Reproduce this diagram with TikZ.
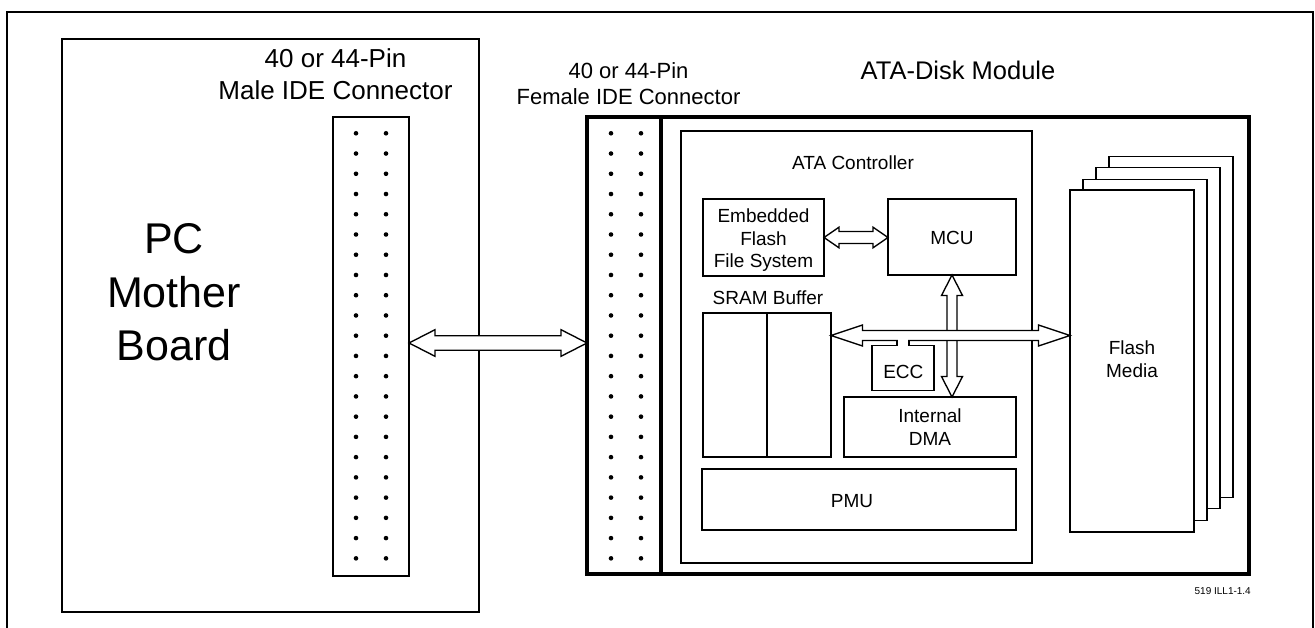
\documentclass[tikz,border=0pt]{standalone}
\usepackage{fontspec}
\setmainfont{Liberation Sans}
\usetikzlibrary{calc}
\newcommand\myharrow[5]{\draw[arrowshape] let \p1=(#1), \p2=(#2) in
  (\x1,\y1) -- (\x1+#5pt,\y1+#4pt) -- (\x1+#5pt,\y1+#3pt) -- (\x2-#5pt,\y1+#3pt) -- (\x2-#5pt,\y1+#4pt) -- (\x2,\y1)
  -- (\x2-#5pt,\y1-#4pt) -- (\x2-#5pt,\y1-#3pt) -- (\x1+#5pt,\y1-#3pt) -- (\x1+#5pt,\y1-#4pt) -- cycle;}
\newcommand\myvarrow[5]{\draw[arrowshape] let \p1=(#1), \p2=(#2) in
  (\x1,\y1) -- (\x1+#4pt,\y1-#5pt) -- (\x1+#3pt,\y1-#5pt) -- (\x1+#3pt,\y2+#5pt) -- (\x1+#4pt,\y2+#5pt) -- (\x1,\y2)
  -- (\x1-#4pt,\y2+#5pt) -- (\x1-#3pt,\y2+#5pt) -- (\x1-#3pt,\y1-#5pt) -- (\x1-#4pt,\y1-#5pt) -- cycle;}
\tikzset{
  box/.style={draw, line width=1.35pt, fill=white, inner sep=0pt, outer sep=0pt},
  thickbox/.style={draw, line width=3.8pt, inner sep=0pt, outer sep=0pt},
  arrowshape/.style={draw, fill=white, line width=1.35pt, line join=miter},
  lbl/.style={anchor=base, inner sep=0pt, outer sep=0pt},
  f19/.style={font=\fontsize{19}{23}\selectfont},
}
\begin{document}
\begin{tikzpicture}[x=1pt,y=-1pt]
\useasboundingbox (0,0) rectangle (1315,628);
\fill[white] (0,0) rectangle (1315,628);
% outer frame
\draw[line width=2pt] (7,628) -- (7,12) -- (1313,12) -- (1313,628);

% PC mother board
\node[box, minimum width=417, minimum height=573] (pc) at (270.5,325.5) {};
\node[lbl, font=\fontsize{43}{53}\selectfont] (pct1) at (174,254) {PC};
\node[lbl, font=\fontsize{43}{53}\selectfont] (pct2) at (174,307.7) {Mother};
\node[lbl, font=\fontsize{43}{53}\selectfont] (pct3) at (174,361) {Board};

% male connector
\node[box, minimum width=76, minimum height=459] (male) at (371,346.5) {};
\node[lbl, font=\fontsize{26}{32}\selectfont] (mlab1) at (335.5,67.3) {40 or 44-Pin};
\node[lbl, font=\fontsize{26}{32}\selectfont] (mlab2) at (335.5,99.3) {Male IDE Connector};
\foreach \k in {0,...,21} {
  \fill (356,133.3+20.24*\k) circle (2.3pt);
  \fill (386,133.3+20.24*\k) circle (2.3pt);
}

% module
\node[thickbox, minimum width=662, minimum height=457] (module) at (918,345.5) {};
\node[thickbox, minimum width=74, minimum height=457] (female) at (624,345.5) {};
\foreach \k in {0,...,21} {
  \fill (611,133.3+20.24*\k) circle (2.3pt);
  \fill (641,133.3+20.24*\k) circle (2.3pt);
}
\node[lbl, font=\fontsize{22}{26}\selectfont] (flab1) at (628.5,78.3) {40 or 44-Pin};
\node[lbl, font=\fontsize{22}{26}\selectfont] (flab2) at (628.5,105) {Female IDE Connector};
\node[lbl, font=\fontsize{25.5}{30}\selectfont] (modlab) at (958,80) {ATA-Disk Module};

% ATA controller
\node[box, minimum width=351, minimum height=432] (ctrl) at (856.5,347) {};
\node[lbl, f19] (ctrllab) at (853,169.3) {ATA Controller};

\node[box, minimum width=121, minimum height=77] (efs) at (763.5,237.5) {};
\node[lbl, f19] (efs1) at (763.5,222.7) {Embedded};
\node[lbl, f19] (efs2) at (763.5,245.3) {Flash};
\node[lbl, f19] (efs3) at (763.5,267.6) {File System};

\node[box, minimum width=128, minimum height=76] (mcu) at (952,237) {};
\node[lbl, f19] (mcul) at (952,244.3) {MCU};

\node[box, minimum width=128, minimum height=144] (sram) at (767,385) {};
\draw[line width=1.35pt] (sram.north) -- (sram.south);
\node[lbl, f19] (sraml) at (768,305) {SRAM Buffer};

\node[box, minimum width=62, minimum height=45] (ecc) at (903,368) {};
\node[lbl, f19] (eccl) at (903.3,378.3) {ECC};

\node[box, minimum width=172, minimum height=60] (dma) at (930,427) {};
\node[lbl, f19] (dma1) at (930,422.7) {Internal};
\node[lbl, f19] (dma2) at (930,445) {DMA};

\node[box, minimum width=314, minimum height=61] (pmu) at (859,499.5) {};
\node[lbl, f19] (pmul) at (852,507.3) {PMU};

% flash media stack
\node[box, minimum width=124, minimum height=341] (flash4) at (1132+39,361-34) {};
\node[box, minimum width=124, minimum height=341] (flash3) at (1132+26,361-22.7) {};
\node[box, minimum width=124, minimum height=341] (flash2) at (1132+13,361-11.3) {};
\node[box, minimum width=124, minimum height=342] (flash1) at (1132,361) {};
\node[lbl, f19] (fl1) at (1132,355) {Flash};
\node[lbl, f19] (fl2) at (1132,377.3) {Media};

\node[anchor=base east, inner sep=0pt, font=\fontsize{10}{12}\selectfont] (ill) at (1251,594) {519 ILL1-1.4};

% connectors
\coordinate (ideY) at (0,343);
\coordinate (busY) at (0,335.5);
\myharrow{male.east |- ideY}{female.west |- ideY}{7.3}{13.3}{26}
\myharrow{efs.east}{mcu.west}{6}{10.3}{15}
\myvarrow{mcu.south}{mcu.south |- dma.north}{5}{10.5}{20.5}
\myharrow{sram.east |- busY}{flash1.west |- busY}{5}{10.5}{31.5}
% ECC stub into the bus
\fill[white] ($(ecc.north)+(-5.3,-6)$) rectangle ($(ecc.north)+(5.3,0.6)$);
\draw[line width=1.35pt] ($(ecc.north)+(-6,-5.2)$) -- ($(ecc.north)+(-6,0)$);
\draw[line width=1.35pt] ($(ecc.north)+(6,-5.2)$) -- ($(ecc.north)+(6,0)$);
\end{tikzpicture}
\end{document}
